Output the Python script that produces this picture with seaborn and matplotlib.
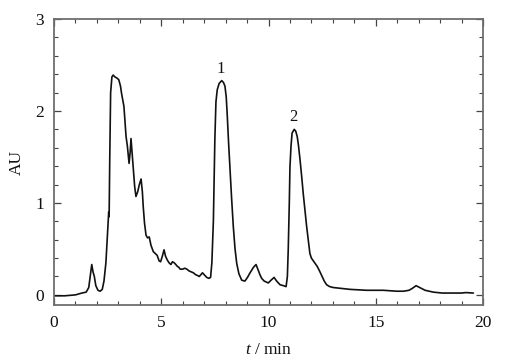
import matplotlib
matplotlib.use("Agg")
import matplotlib.pyplot as plt
import seaborn as sns
import pandas as pd
from matplotlib.ticker import MultipleLocator

# --- data ---
time_min = [
    0.0, 0.5, 1.0, 1.3, 1.5, 1.62, 1.7, 1.76, 1.82, 1.88, 1.95, 2.05, 2.15, 2.25,
    2.33, 2.42, 2.5, 2.53, 2.55, 2.57, 2.6, 2.64, 2.7, 2.76, 2.84, 2.92, 3.02,
    3.1, 3.15, 3.22, 3.26, 3.32, 3.36, 3.42, 3.5, 3.55, 3.59, 3.63, 3.7, 3.76,
    3.82, 3.9, 3.98, 4.06, 4.12, 4.16, 4.22, 4.29, 4.36, 4.44, 4.52, 4.63, 4.72,
    4.81, 4.9, 4.97, 5.05, 5.13, 5.2, 5.28, 5.36, 5.45, 5.52, 5.6, 5.68, 5.75,
    5.82, 5.88, 6.0, 6.1, 6.19, 6.3, 6.4, 6.5, 6.6, 6.7, 6.77, 6.85, 6.92, 7.0,
    7.12, 7.22, 7.3, 7.36, 7.43, 7.5, 7.55, 7.61, 7.7, 7.82, 7.9, 7.97, 8.03,
    8.08, 8.14, 8.2, 8.28, 8.36, 8.44, 8.52, 8.62, 8.75, 8.9, 9.02, 9.14, 9.3,
    9.42, 9.52, 9.6, 9.68, 9.8, 9.99, 10.12, 10.26, 10.38, 10.54, 10.7, 10.82,
    10.88, 10.92, 10.97, 11.0, 11.05, 11.1, 11.2, 11.27, 11.34, 11.4, 11.47,
    11.55, 11.62, 11.7, 11.78, 11.86, 11.93, 12.0, 12.09, 12.18, 12.27, 12.38,
    12.48, 12.6, 12.71, 12.85, 13.02, 13.4, 13.8, 14.2, 14.58, 15.0, 15.35,
    15.7, 15.98, 16.3, 16.55, 16.7, 16.88, 17.05, 17.3, 17.68, 18.1, 18.6,
    19.0, 19.2, 19.55,
]
absorbance = [
    -0.01, -0.01, 0.0, 0.02, 0.03, 0.08, 0.22, 0.33, 0.25, 0.2, 0.1, 0.05, 0.04,
    0.06, 0.15, 0.35, 0.7, 0.82, 0.9, 0.85, 1.5, 2.2, 2.37, 2.39, 2.37, 2.36,
    2.34, 2.27, 2.19, 2.1, 2.05, 1.85, 1.72, 1.62, 1.43, 1.55, 1.70, 1.58, 1.36,
    1.18, 1.07, 1.12, 1.2, 1.26, 1.12, 0.96, 0.78, 0.65, 0.62, 0.63, 0.54, 0.47,
    0.45, 0.43, 0.37, 0.36, 0.42, 0.49, 0.42, 0.38, 0.35, 0.33, 0.36, 0.35,
    0.33, 0.31, 0.3, 0.28, 0.28, 0.29, 0.28, 0.26, 0.25, 0.24, 0.22, 0.21, 0.2,
    0.22, 0.24, 0.22, 0.19, 0.18, 0.19, 0.35, 0.8, 1.7, 2.1, 2.23, 2.3, 2.33,
    2.31, 2.27, 2.15, 1.94, 1.65, 1.39, 1.05, 0.74, 0.5, 0.34, 0.23, 0.16,
    0.15, 0.19, 0.24, 0.3, 0.33, 0.27, 0.22, 0.18, 0.15, 0.13, 0.16, 0.19,
    0.15, 0.11, 0.1, 0.09, 0.2, 0.49, 1.0, 1.39, 1.62, 1.76, 1.80, 1.78, 1.72,
    1.62, 1.47, 1.28, 1.1, 0.92, 0.74, 0.58, 0.45, 0.40, 0.37, 0.34, 0.31,
    0.26, 0.21, 0.15, 0.11, 0.09, 0.08, 0.07, 0.06, 0.055, 0.05, 0.05, 0.05,
    0.045, 0.04, 0.04, 0.05, 0.07, 0.10, 0.08, 0.05, 0.03, 0.02, 0.02, 0.02,
    0.025, 0.02,
]
peak_labels = ["1", "2"]
peak_label_t = [7.78, 11.18]
peak_label_y = [2.37, 1.85]

x_ticks = [0, 5, 10, 15, 20]
y_ticks = [0, 1, 2, 3]

sns.set_theme(style="ticks")
plt.rcParams["font.family"] = ["Liberation Serif", "DejaVu Serif"]
plt.rcParams["mathtext.fontset"] = "custom"
plt.rcParams["mathtext.it"] = "Liberation Serif:italic"
plt.rcParams["mathtext.rm"] = "Liberation Serif"

df = pd.DataFrame({"t": time_min, "AU": absorbance})

fig = plt.figure(figsize=(5.14, 3.62), dpi=100)
ax = fig.add_axes([54 / 514, 57 / 362, (483 - 54) / 514, (305 - 19) / 362])

sns.lineplot(data=df, x="t", y="AU", ax=ax, color="#111111", linewidth=1.2,
             estimator=None, sort=False)

for lab, tx, ty in zip(peak_labels, peak_label_t, peak_label_y):
    ax.text(tx, ty, lab, ha="center", va="bottom", fontsize=12, color="#111111")

ax.set_xlim(0, 20)
ax.set_ylim(-0.11, 3.0)
ax.set_xticks(x_ticks)
ax.set_yticks(y_ticks)
ax.xaxis.set_minor_locator(MultipleLocator(1))
ax.yaxis.set_minor_locator(MultipleLocator(0.2))
ax.tick_params(which="both", direction="in", top=True, right=True,
               colors="#444444", labelcolor="#111111", labelsize=12.5)
ax.tick_params(which="major", length=5, width=0.9, pad=7)
ax.tick_params(which="minor", length=3, width=0.8)
for s in ax.spines.values():
    s.set_color("#6e6e6e")
    s.set_linewidth(1.3)

ax.set_xlabel(r"$\mathit{t}$ / min", fontsize=12.5, color="#111111", labelpad=8)
ax.set_ylabel("AU", fontsize=12.5, color="#111111", labelpad=8)

fig.savefig("out.png", dpi=100)
